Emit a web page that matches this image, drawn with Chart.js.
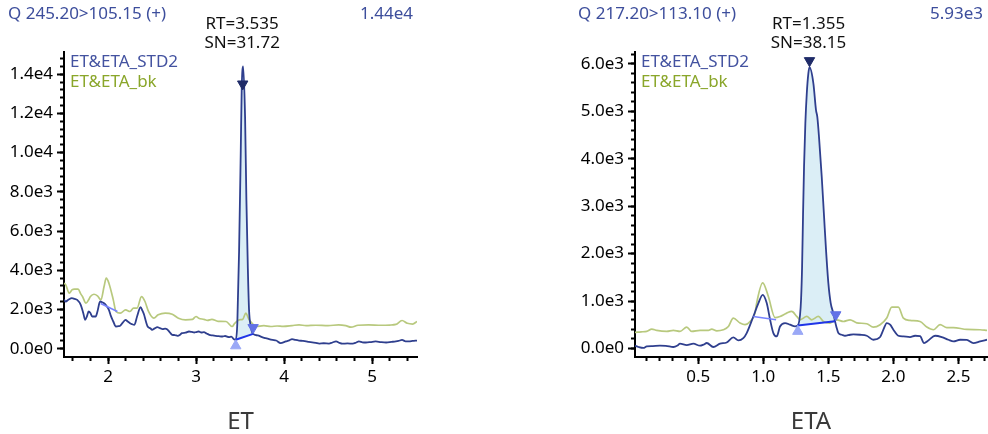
<!DOCTYPE html>
<html><head><meta charset="utf-8">
<script src="https://cdn.jsdelivr.net/npm/chart.js@4.4.1/dist/chart.umd.min.js"></script>
<style>
html,body{margin:0;padding:0;background:#fff;}
#wrap{position:relative;width:988px;height:434px;overflow:hidden;}
.c{position:absolute;top:0;width:494px;height:434px;}
</style></head><body>
<div id="wrap">
<div class="c" style="left:0"><canvas id="c1" width="494" height="434"></canvas></div>
<div class="c" style="left:494px"><canvas id="c2" width="494" height="434"></canvas></div>
</div>
<script>
// ---------- ET (left) ----------
const etStdTime = [1.50,1.52,1.55,1.59,1.62,1.65,1.69,1.72,1.74,1.76,1.78,1.80,1.82,1.86,1.88,1.91,1.93,1.955,1.98,2.01,2.03,2.06,2.09,2.12,2.14,2.17,2.20,2.22,2.25,2.27,2.30,2.33,2.37,2.39,2.41,2.43,2.45,2.48,2.50,2.53,2.56,2.59,2.62,2.65,2.67,2.70,2.73,2.76,2.79,2.82,2.84,2.88,2.92,2.95,2.98,3.00,3.03,3.06,3.09,3.12,3.15,3.19,3.22,3.26,3.30,3.33,3.375,3.40,3.43,3.451,3.469,3.489,3.508,3.519,3.535,3.557,3.572,3.588,3.602,3.622,3.648,3.70,3.75,3.79,3.83,3.87,3.91,3.96,4.02,4.06,4.09,4.13,4.17,4.21,4.25,4.28,4.32,4.36,4.40,4.45,4.51,4.55,4.59,4.63,4.66,4.72,4.78,4.82,4.85,4.89,4.93,4.98,5.04,5.10,5.16,5.22,5.27,5.30,5.34,5.38,5.42,5.46,5.51];
const etStdValue = [2500,2410,2500,2580,2540,2490,2240,1800,1476,1650,1900,1820,1645,1645,1900,2410,2380,2320,2200,1985,1700,1390,1135,1150,1180,1350,1476,1400,1305,1260,1220,1645,2120,1950,1730,1400,1135,1050,967,1040,1100,1050,1000,1030,1000,850,713,700,660,720,798,820,880,860,830,850,880,830,850,780,713,680,660,640,626,650,594,620,490,460,1320,5000,10100,13300,14400,11800,7580,4190,1985,1135,760,680,595,540,490,450,420,290,376,430,490,450,420,400,376,350,330,300,264,280,264,320,376,300,264,270,264,320,376,330,320,340,376,340,320,350,376,400,450,380,376,400,420];
const etBkTime = [1.50,1.52,1.56,1.59,1.62,1.66,1.69,1.71,1.75,1.78,1.80,1.84,1.88,1.92,1.955,1.98,2.01,2.06,2.09,2.14,2.20,2.25,2.29,2.33,2.38,2.42,2.46,2.52,2.57,2.65,2.73,2.80,2.88,2.96,3.00,3.03,3.09,3.13,3.18,3.25,3.34,3.41,3.44,3.49,3.53,3.565,3.60,3.62,3.68,3.77,3.85,3.92,3.99,4.09,4.17,4.25,4.36,4.50,4.62,4.70,4.76,4.84,4.96,5.10,5.20,5.27,5.34,5.40,5.46,5.51];
const etBkValue = [3350,3260,2835,3000,3040,3040,2800,2662,2326,2500,2662,2780,2700,2494,3171,3600,3344,2494,1900,1815,1985,1900,2070,2070,2662,2410,1900,1560,1730,1815,1760,1560,1476,1500,1645,1560,1500,1450,1500,1400,1390,1135,1300,1476,1500,1815,1500,1390,1135,1180,1135,1160,1140,1180,1220,1180,1200,1180,1220,1180,1100,1200,1220,1200,1210,1240,1440,1300,1260,1390];
const etBaseTime = [3.451, 3.648];
const etBaseValue = [460, 760];
const etBase2Time = [1.917, 2.106];
const etBase2Value = [2310, 1900];
const etMarkTime = [3.53, 3.451, 3.648];     // apex, start, end
const etMarkValue = [13500, 150, 1080];
const etXTicks = [2, 3, 4, 5];
const etXLabels = ['2', '3', '4', '5'];
const etXMinor = [1.6,1.8,2.0,2.2,2.4,2.6,2.8,3.0,3.2,3.4,3.6,3.8,4.0,4.2,4.4,4.6,4.8,5.0,5.2,5.4];
const etYTicks = [0, 2000, 4000, 6000, 8000, 10000, 12000, 14000];
const etYLabels = ['0.0e0','2.0e3','4.0e3','6.0e3','8.0e3','1.0e4','1.2e4','1.4e4'];
const etYMinor = [0,400,800,1200,1600,2000,2400,2800,3200,3600,4000,4400,4800,5200,5600,6000,6400,6800,7200,7600,8000,8400,8800,9200,9600,10000,10400,10800,11200,11600,12000,12400,12800,13200,13600,14000,14400,14800];
const etTexts = ['Q 245.20>105.15 (+)', '1.44e4', 'RT=3.535', 'SN=31.72', 'ET'];

// ---------- ETA (right) ----------
const etaStdTime = [0.013,0.04,0.077,0.103,0.15,0.205,0.25,0.308,0.34,0.359,0.411,0.462,0.513,0.54,0.565,0.615,0.667,0.718,0.769,0.808,0.846,0.872,0.923,0.962,0.995,1.026,1.052,1.077,1.103,1.128,1.167,1.205,1.244,1.265,1.282,1.290,1.298,1.305,1.313,1.323,1.334,1.346,1.355,1.385,1.405,1.415,1.428,1.449,1.467,1.482,1.500,1.518,1.538,1.551,1.561,1.577,1.603,1.628,1.667,1.692,1.744,1.795,1.846,1.898,1.923,1.949,1.975,2.000,2.038,2.077,2.128,2.167,2.205,2.236,2.269,2.321,2.372,2.423,2.462,2.513,2.565,2.615,2.667,2.72];
const etaStdValue = [57,30,10,42,50,57,55,30,60,99,70,99,57,80,114,30,99,126,232,168,218,324,674,956,1130,956,604,324,253,463,535,500,463,484,700,1025,1726,2779,3831,4745,5376,5797,5930,5587,5025,4884,4463,3620,2779,2078,1377,956,745,575,463,324,288,267,288,295,288,267,183,240,394,535,500,394,267,253,240,267,260,113,168,267,240,183,147,183,180,113,147,183];
const etaBkTime = [0.013,0.06,0.103,0.142,0.180,0.257,0.308,0.359,0.411,0.449,0.513,0.577,0.603,0.642,0.692,0.731,0.769,0.821,0.859,0.898,0.936,0.949,0.995,1.038,1.09,1.128,1.180,1.218,1.257,1.282,1.334,1.372,1.423,1.462,1.513,1.565,1.615,1.667,1.718,1.795,1.846,1.898,1.949,1.988,2.038,2.077,2.128,2.205,2.257,2.308,2.359,2.411,2.462,2.565,2.667,2.72];
const etaBkValue = [337,350,358,408,379,358,379,358,450,358,379,379,408,370,393,463,640,535,500,568,745,962,1383,1100,650,674,745,780,675,604,674,604,674,568,535,604,568,604,540,520,450,500,640,871,871,640,590,568,450,394,500,440,440,400,394,379];
const etaBaseTime = [1.265, 1.551];
const etaBaseValue = [484, 575];
const etaBase2Time = [0.923, 1.098];
const etaBase2Value = [674, 604];
const etaMarkTime = [1.355, 1.265, 1.557];
const etaMarkValue = [6070, 360, 710];
const etaXTicks = [0.5, 1.0, 1.5, 2.0, 2.5];
const etaXLabels = ['0.5', '1.0', '1.5', '2.0', '2.5'];
const etaXMinor = [0.1,0.2,0.3,0.4,0.5,0.6,0.7,0.8,0.9,1.0,1.1,1.2,1.3,1.4,1.5,1.6,1.7,1.8,1.9,2.0,2.1,2.2,2.3,2.4,2.5,2.6,2.7];
const etaYTicks = [0, 1000, 2000, 3000, 4000, 5000, 6000];
const etaYLabels = ['0.0e0','1.0e3','2.0e3','3.0e3','4.0e3','5.0e3','6.0e3'];
const etaYMinor = [0,200,400,600,800,1000,1200,1400,1600,1800,2000,2200,2400,2600,2800,3000,3200,3400,3600,3800,4000,4200,4400,4600,4800,5000,5200,5400,5600,5800,6000,6200];
const etaTexts = ['Q 217.20>113.10 (+)', '5.93e3', 'RT=1.355', 'SN=38.15', 'ETA'];

const legendNames = ['ET&ETA_STD2', 'ET&ETA_bk'];

Chart.defaults.font.family = '"Noto Sans", sans-serif';

const C = {
  std: '#2f3f8e', bk: '#b8c97e', fill: '#dbeef6', base: '#1f35e8', base2: '#7783ff',
  apex: '#1f2b68', start: '#9aa8f6', end: '#6272e6', head: '#3d4e9c',
  legStd: '#4352a0', legBk: '#8aa62a'
};

const annot = {
  id: 'annot',
  afterDraw(chart, args, o) {
    const ctx = chart.ctx, a = chart.chartArea, xs = chart.scales.x;
    ctx.save();
    ctx.textBaseline = 'middle';
    ctx.font = '17px "Noto Sans"';
    ctx.fillStyle = C.head;
    ctx.textAlign = 'left';
    ctx.fillText(o.texts[0], o.headX, 14);
    ctx.textAlign = 'right';
    ctx.fillText(o.texts[1], a.right - 4, 14);
    ctx.fillStyle = '#111';
    ctx.textAlign = 'center';
    const px = xs.getPixelForValue(o.rt) - 1;
    ctx.fillText(o.texts[2], px, 24);
    ctx.fillText(o.texts[3], px, 43);
    ctx.textAlign = 'left';
    ctx.fillStyle = C.legStd;
    ctx.fillText(legendNames[0], a.left + 6, 62);
    ctx.fillStyle = C.legBk;
    ctx.fillText(legendNames[1], a.left + 6, 82);
    ctx.restore();
  }
};

function pts(xs, ys) { return xs.map((x, i) => ({x: x, y: ys[i]})); }

function build(id, d) {
  const std = pts(d.stdT, d.stdV);
  const bk = pts(d.bkT, d.bkV);
  const base = pts(d.baseT, d.baseV);
  const peak = std.filter(p => p.x >= d.baseT[0] && p.x <= d.baseT[1]);
  const mk = pts(d.markT, d.markV);
  const lineCommon = {pointRadius: 0, cubicInterpolationMode: 'monotone', fill: false};
  const tickFont = {size: 17};
  const datasets = [
    Object.assign({}, lineCommon, {data: peak, borderWidth: 0, borderColor: 'rgba(0,0,0,0)', backgroundColor: C.fill, fill: 3, order: 10}),
    Object.assign({}, lineCommon, {data: bk, borderColor: C.bk, borderWidth: 1.7, order: 9}),
    Object.assign({}, lineCommon, {data: std, borderColor: C.std, borderWidth: 1.8, order: 8}),
    {data: base, borderColor: C.base, borderWidth: 2, pointRadius: 0, tension: 0, order: 7},
    {data: pts(d.base2T, d.base2V), borderColor: C.base2, borderWidth: 1.5, pointRadius: 0, tension: 0, order: 6},
    {data: [mk[0]], showLine: false, pointStyle: 'triangle', rotation: 180, pointRadius: 6, pointBackgroundColor: C.apex, pointBorderColor: C.apex, order: 3},
    {data: [mk[1]], showLine: false, pointStyle: 'triangle', rotation: 0, pointRadius: 6, pointBackgroundColor: C.start, pointBorderColor: C.start, order: 2},
    {data: [mk[2]], showLine: false, pointStyle: 'triangle', rotation: 180, pointRadius: 6, pointBackgroundColor: C.end, pointBorderColor: C.end, order: 1}
  ];
  const setTicks = (vals) => (s) => { s.ticks = vals.map(v => ({value: v})); };
  new Chart(document.getElementById(id), {
    type: 'line',
    data: {datasets: datasets},
    plugins: [annot],
    options: {
      responsive: false, animation: false, devicePixelRatio: 1,
      layout: {autoPadding: false, padding: {left: 0, top: 52, right: d.padRight, bottom: 0}},
      plugins: {legend: {display: false}, tooltip: {enabled: false},
        annot: {texts: d.texts, headX: d.headX, rt: d.rt}},
      scales: {
        x: {type: 'linear', position: 'bottom', weight: 1, min: d.xMin, max: d.xMax,
          afterBuildTicks: setTicks(d.xTicks),
          afterFit: (s) => { s.height = 77; },
          ticks: {autoSkip: false, maxRotation: 0, color: '#000', font: tickFont, padding: 3,
            callback: (v, i) => d.xLabels[i]},
          grid: {drawOnChartArea: false, drawTicks: true, tickLength: 7, tickWidth: 2, tickColor: '#000'},
          border: {display: true, color: '#000', width: 2},
          title: {display: true, text: d.texts[4], color: '#3a3a3a', font: {size: 24, lineHeight: 1}, padding: {top: 0, bottom: 0}}
        },
        xMinor: {type: 'linear', position: 'bottom', weight: 0, min: d.xMin, max: d.xMax,
          afterBuildTicks: setTicks(d.xMinor),
          afterFit: (s) => { s.height = 0; },
          ticks: {display: false},
          grid: {drawOnChartArea: false, drawTicks: true, tickLength: 4, tickWidth: 2, tickColor: '#000'},
          border: {display: false}
        },
        y: {type: 'linear', position: 'left', weight: 1, min: d.yMin, max: d.yMax,
          afterBuildTicks: setTicks(d.yTicks),
          afterFit: (s) => { s.width = d.yWidth; },
          ticks: {autoSkip: false, color: '#000', font: tickFont, padding: 4,
            callback: (v, i) => d.yLabels[i]},
          grid: {drawOnChartArea: false, drawTicks: true, tickLength: 7, tickWidth: 2, tickColor: '#000'},
          border: {display: true, color: '#000', width: 2}
        },
        yMinor: {type: 'linear', position: 'left', weight: 0, min: d.yMin, max: d.yMax,
          afterBuildTicks: setTicks(d.yMinor),
          afterFit: (s) => { s.width = 0; },
          ticks: {display: false},
          grid: {drawOnChartArea: false, drawTicks: true, tickLength: 4, tickWidth: 2, tickColor: '#000'},
          border: {display: false}
        }
      }
    }
  });
}

build('c1', {
  stdT: etStdTime, stdV: etStdValue, bkT: etBkTime, bkV: etBkValue,
  baseT: etBaseTime, baseV: etBaseValue, base2T: etBase2Time, base2V: etBase2Value,
  markT: etMarkTime, markV: etMarkValue,
  xTicks: etXTicks, xLabels: etXLabels, xMinor: etXMinor,
  yTicks: etYTicks, yLabels: etYLabels, yMinor: etYMinor,
  texts: etTexts, rt: 3.535, headX: 8,
  xMin: 1.5, xMax: 5.51, yMin: -420, yMax: 15130, yWidth: 64, padRight: 77
});
build('c2', {
  stdT: etaStdTime, stdV: etaStdValue, bkT: etaBkTime, bkV: etaBkValue,
  baseT: etaBaseTime, baseV: etaBaseValue, base2T: etaBase2Time, base2V: etaBase2Value,
  markT: etaMarkTime, markV: etaMarkValue,
  xTicks: etaXTicks, xLabels: etaXLabels, xMinor: etaXMinor,
  yTicks: etaYTicks, yLabels: etaYLabels, yMinor: etaYMinor,
  texts: etaTexts, rt: 1.355, headX: 84,
  xMin: 0.013, xMax: 2.72, yMin: -181, yMax: 6252, yWidth: 141, padRight: 1
});
</script>
</body></html>
